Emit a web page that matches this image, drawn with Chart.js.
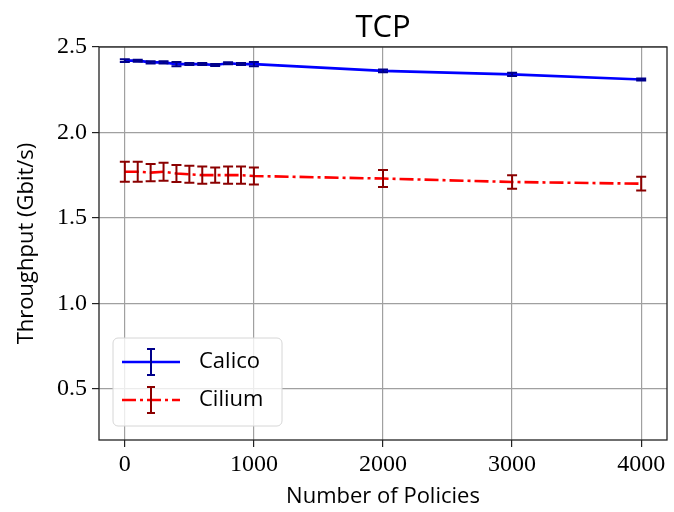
<!DOCTYPE html>
<html>
<head>
<meta charset="utf-8">
<script src="https://cdn.jsdelivr.net/npm/chart.js@4"></script>
<style>
  body { margin: 0; background: #fff; }
  #wrap { width: 674px; height: 512px; }
</style>
</head>
<body>
<div id="wrap"><canvas id="grafico"></canvas></div>
<script>
// number of policies (x) and throughput in Gbit/s
const policies = [0, 100, 200, 300, 400, 500, 600, 700, 800, 900, 1000, 2000, 3000, 4000];
const calico = [2.42, 2.42, 2.41, 2.41, 2.40, 2.40, 2.40, 2.395, 2.405, 2.40, 2.40, 2.36, 2.34, 2.31];
const calicoErr = [0.008, 0.006, 0.006, 0.006, 0.012, 0.006, 0.006, 0.006, 0.006, 0.006, 0.012, 0.008, 0.01, 0.006];
const cilium = [1.77, 1.77, 1.765, 1.77, 1.76, 1.755, 1.75, 1.75, 1.75, 1.75, 1.745, 1.73, 1.71, 1.70];
const ciliumErr = [0.058, 0.058, 0.05, 0.053, 0.05, 0.05, 0.05, 0.045, 0.05, 0.05, 0.05, 0.05, 0.04, 0.04];
const xTicks = [0, 1000, 2000, 3000, 4000];
const yTicks = [0.5, 1.0, 1.5, 2.0, 2.5];

const sans = "'Open Sans', 'DejaVu Sans', sans-serif";
const serif = "'Liberation Serif', 'DejaVu Serif', serif";
const dashDot = [14, 4, 3, 4];

function pts(ys) {
  return policies.map((x, i) => ({ x: x, y: ys[i] }));
}

// error bars, frame, title and legend drawn with the chart's scales
const extras = {
  id: 'extras',
  afterDatasetsDraw(chart) {
    const ctx = chart.ctx;
    const xs = chart.scales.x, ys = chart.scales.y;
    const errs = [calicoErr, ciliumErr];
    const cols = ['#00008b', '#8b0000'];
    chart.data.datasets.forEach((ds, k) => {
      ctx.save();
      ctx.strokeStyle = cols[k];
      ctx.lineWidth = 2;
      ds.data.forEach((p, i) => {
        const px = xs.getPixelForValue(p.x);
        const top = ys.getPixelForValue(p.y + errs[k][i]);
        const bot = ys.getPixelForValue(p.y - errs[k][i]);
        ctx.beginPath();
        ctx.moveTo(px, top); ctx.lineTo(px, bot);
        ctx.moveTo(px - 5, top); ctx.lineTo(px + 5, top);
        ctx.moveTo(px - 5, bot); ctx.lineTo(px + 5, bot);
        ctx.stroke();
      });
      ctx.restore();
    });
  },
  afterDraw(chart) {
    const ctx = chart.ctx;
    const a = chart.chartArea;
    ctx.save();
    ctx.strokeStyle = '#222';
    ctx.lineWidth = 1.3;
    ctx.strokeRect(a.left, a.top, a.right - a.left, a.bottom - a.top);

    ctx.fillStyle = '#000';
    ctx.font = '31px ' + sans;
    ctx.textAlign = 'center';
    ctx.textBaseline = 'alphabetic';
    ctx.fillText('TCP', (a.left + a.right) / 2, 37);

    // legend
    const bx = 113, by = 338, bw = 169, bh = 88, r = 5;
    ctx.beginPath();
    ctx.moveTo(bx + r, by);
    ctx.arcTo(bx + bw, by, bx + bw, by + bh, r);
    ctx.arcTo(bx + bw, by + bh, bx, by + bh, r);
    ctx.arcTo(bx, by + bh, bx, by, r);
    ctx.arcTo(bx, by, bx + bw, by, r);
    ctx.closePath();
    ctx.fillStyle = 'rgba(255,255,255,0.8)';
    ctx.fill();
    ctx.strokeStyle = '#d6d6d6';
    ctx.lineWidth = 1;
    ctx.stroke();

    const rows = [
      { y: 362, line: '#0000ff', bar: '#00008b', dash: [], text: 'Calico' },
      { y: 400, line: '#ff0000', bar: '#8b0000', dash: dashDot, text: 'Cilium' }
    ];
    rows.forEach(row => {
      ctx.strokeStyle = row.line;
      ctx.lineWidth = 2.6;
      ctx.setLineDash(row.dash);
      ctx.beginPath();
      ctx.moveTo(122, row.y); ctx.lineTo(180, row.y);
      ctx.stroke();
      ctx.setLineDash([]);
      ctx.strokeStyle = row.bar;
      ctx.lineWidth = 2;
      ctx.beginPath();
      ctx.moveTo(151, row.y - 13); ctx.lineTo(151, row.y + 13);
      ctx.moveTo(147, row.y - 13); ctx.lineTo(155, row.y - 13);
      ctx.moveTo(147, row.y + 13); ctx.lineTo(155, row.y + 13);
      ctx.stroke();
      ctx.fillStyle = '#000';
      ctx.font = '22px ' + sans;
      ctx.textAlign = 'left';
      ctx.textBaseline = 'middle';
      ctx.fillText(row.text, 199, row.y);
    });
    ctx.restore();
  }
};

const ctx = document.getElementById('grafico').getContext('2d');
new Chart(ctx, {
  type: 'line',
  data: {
    datasets: [{
      label: 'Calico',
      data: pts(calico),
      borderColor: '#0000ff',
      borderWidth: 2.6,
      pointRadius: 0,
      fill: false,
      tension: 0
    }, {
      label: 'Cilium',
      data: pts(cilium),
      borderColor: '#ff0000',
      borderWidth: 2.6,
      borderDash: dashDot,
      pointRadius: 0,
      fill: false,
      tension: 0
    }]
  },
  options: {
    responsive: true,
    maintainAspectRatio: false,
    animation: false,
    layout: { padding: { top: 47, right: 7 } },
    plugins: {
      legend: { display: false },
      title: { display: false },
      tooltip: { enabled: false }
    },
    scales: {
      x: {
        type: 'linear',
        min: -200,
        max: 4200,
        afterBuildTicks: s => { s.ticks = xTicks.map(v => ({ value: v })); },
        afterFit: s => { s.height = 72; },
        grid: { color: '#a0a0a0', lineWidth: 1.2, tickColor: '#222', tickLength: 7 },
        border: { display: false },
        ticks: {
          color: '#000',
          font: { family: serif, size: 24 },
          padding: 3,
          maxRotation: 0,
          callback: v => String(v)
        },
        title: {
          display: true,
          text: 'Number of Policies',
          color: '#000',
          font: { family: sans, size: 22 },
          padding: { top: 0, bottom: 2 }
        }
      },
      y: {
        min: 0.2,
        max: 2.5,
        afterBuildTicks: s => { s.ticks = yTicks.map(v => ({ value: v })); },
        afterFit: s => { s.width = 99; },
        grid: { color: '#a0a0a0', lineWidth: 1.2, tickColor: '#222', tickLength: 7 },
        border: { display: false },
        ticks: {
          color: '#000',
          font: { family: serif, size: 24 },
          padding: 5,
          callback: v => v.toFixed(1)
        },
        title: {
          display: true,
          text: 'Throughput (Gbit/s)',
          color: '#000',
          font: { family: sans, size: 22 },
          padding: { top: 14, bottom: 0 }
        }
      }
    }
  },
  plugins: [extras]
});
</script>
</body>
</html>
